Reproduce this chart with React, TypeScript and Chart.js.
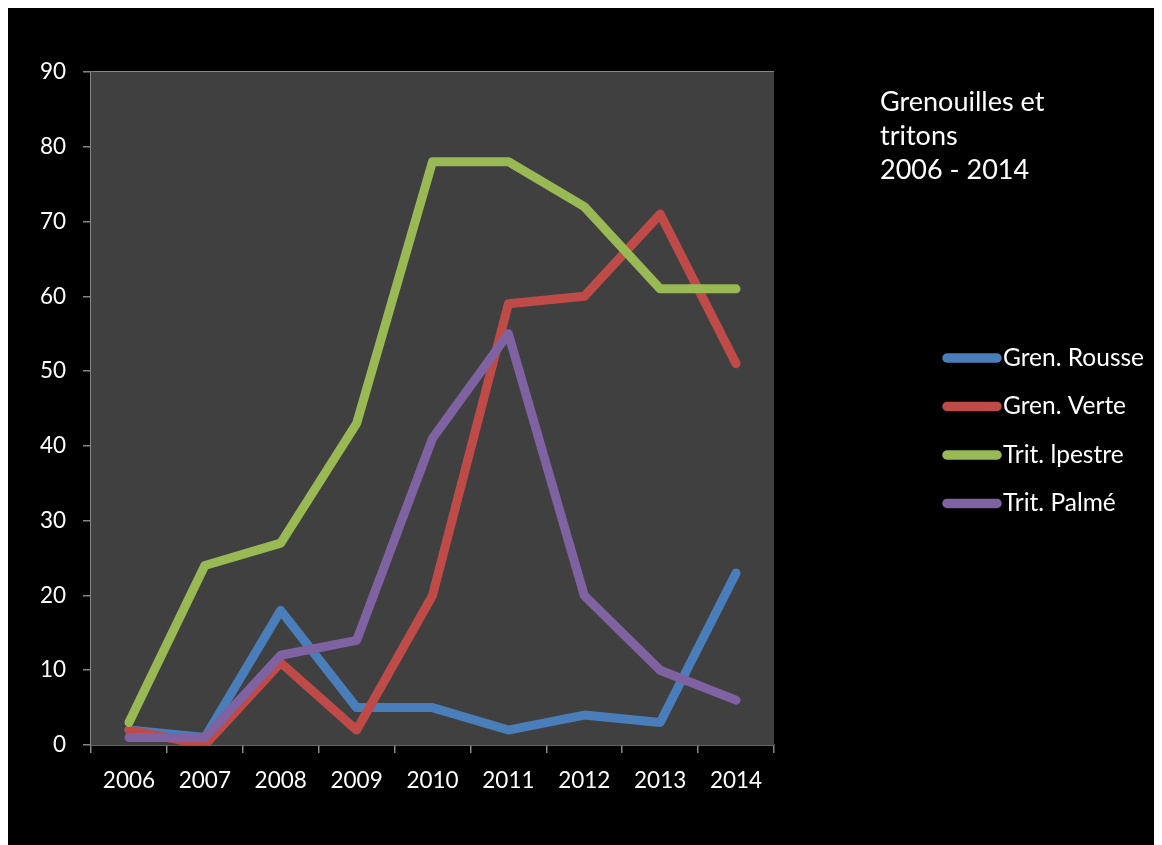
import React, { useEffect, useRef } from "react";
import { Chart, registerables } from "chart.js";

Chart.register(...registerables);

const years = ["2006", "2007", "2008", "2009", "2010", "2011", "2012", "2013", "2014"];
const grenRousse = [2, 1, 18, 5, 5, 2, 4, 3, 23];
const grenVerte = [2, 0, 11, 2, 20, 59, 60, 71, 51];
const tritAlpestre = [3, 24, 27, 43, 78, 78, 72, 61, 61];
const tritPalme = [1, 1, 12, 14, 41, 55, 20, 10, 6];
const seriesNames = ["Gren. Rousse", "Gren. Verte", "Trit. lpestre", "Trit. Palmé"];
const seriesColors = ["#4A7EBB", "#BE4B48", "#98B954", "#7F62A1"];
const titleLines = ["Grenouilles et", "tritons", "2006 - 2014"];

const FONT = "Lato, 'DejaVu Sans', sans-serif";

const decorPlugin = {
  id: "decor",
  beforeDatasetsDraw(chart: any) {
    const { ctx, chartArea } = chart;
    ctx.save();
    ctx.fillStyle = "#404040";
    ctx.fillRect(chartArea.left, chartArea.top, chartArea.right - chartArea.left, chartArea.bottom - chartArea.top);
    ctx.restore();
  },
  afterDraw(chart: any) {
    const { ctx } = chart;
    ctx.save();
    ctx.fillStyle = "#ffffff";
    ctx.font = `27px ${FONT}`;
    ctx.textBaseline = "middle";
    ctx.textAlign = "left";
    titleLines.forEach((t, i) => {
      ctx.fillText(t, 872, 94 + i * 34);
    });
    ctx.font = `24.5px ${FONT}`;
    chart.data.datasets.forEach((ds: any, i: number) => {
      const y = 350 + i * 48.5;
      ctx.strokeStyle = ds.borderColor;
      ctx.lineWidth = 9.5;
      ctx.lineCap = "round";
      ctx.beginPath();
      ctx.moveTo(939, y);
      ctx.lineTo(989, y);
      ctx.stroke();
      ctx.fillStyle = "#ffffff";
      ctx.fillText(ds.label, 995, y);
    });
    ctx.restore();
  },
};

export default function App() {
  const ref = useRef<HTMLCanvasElement>(null);
  useEffect(() => {
    if (!ref.current) return;
    const values = [grenRousse, grenVerte, tritAlpestre, tritPalme];
    const chart = new Chart(ref.current, {
      type: "line",
      data: {
        labels: years,
        datasets: values.map((v, i) => ({
          label: seriesNames[i],
          data: v,
          borderColor: seriesColors[i],
          backgroundColor: seriesColors[i],
          borderWidth: 9,
          borderCapStyle: "round",
          borderJoinStyle: "round",
          pointRadius: 0,
          tension: 0,
          order: 4 - i,
        })),
      },
      options: {
        animation: false,
        responsive: true,
        maintainAspectRatio: false,
        layout: { padding: { top: 64, right: 388, bottom: 0, left: 0 } },
        plugins: { legend: { display: false }, tooltip: { enabled: false } },
        scales: {
          x: {
            offset: true,
            afterFit: (s: any) => { s.height = 100; },
            grid: { display: true, drawOnChartArea: false, drawTicks: true, tickLength: 8, color: "#868686", lineWidth: 1.5, offset: true },
            border: { color: "#868686", width: 1.5 },
            ticks: { color: "#ffffff", font: { family: FONT, size: 22.5 }, padding: 14, maxRotation: 0 },
          },
          y: {
            min: 0,
            max: 90,
            afterFit: (s: any) => { s.width = 83; },
            grid: { color: "#868686", lineWidth: 1.5, tickLength: 8 },
            border: { color: "#868686", width: 1.5 },
            ticks: { stepSize: 10, color: "#ffffff", font: { family: FONT, size: 22.5 }, padding: 17 },
          },
        },
      },
      plugins: [decorPlugin],
    } as any);
    return () => chart.destroy();
  }, []);
  return (
    <div style={{ width: 1154, height: 837, background: "#000000", position: "relative" }}>
      <canvas ref={ref} />
    </div>
  );
}
